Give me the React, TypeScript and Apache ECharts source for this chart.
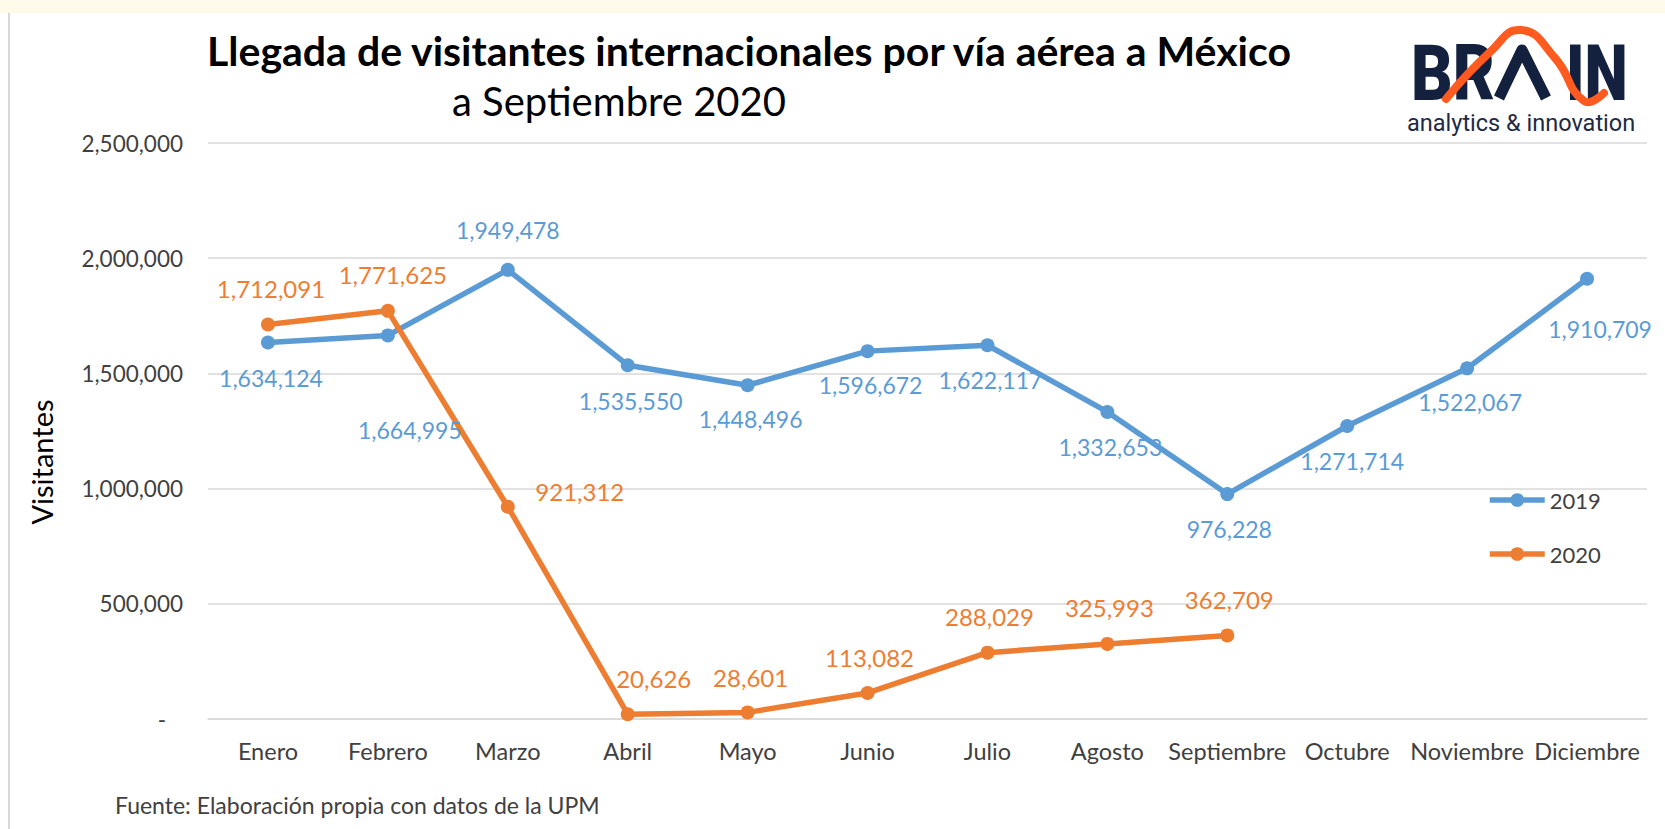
import React, { useEffect, useRef } from "react";
import * as echarts from "echarts";

const months = ["Enero", "Febrero", "Marzo", "Abril", "Mayo", "Junio", "Julio", "Agosto", "Septiembre", "Octubre", "Noviembre", "Diciembre"];
const visitors2019 = [1634124, 1664995, 1949478, 1535550, 1448496, 1596672, 1622117, 1332653, 976228, 1271714, 1522067, 1910709];
const visitors2020 = [1712091, 1771625, 921312, 20626, 28601, 113082, 288029, 325993, 362709];
const yTicks = [0, 500000, 1000000, 1500000, 2000000, 2500000];

const titleText = "Llegada de visitantes internacionales por vía aérea a México";
const subtitleText = "a Septiembre 2020";
const sourceText = "Fuente: Elaboración propia con datos de la UPM";

// label offsets (style only)
const offsets2019: [number, number][] = [
  [3, 36], [22, 95], [0, -40], [3, 36], [3, 34], [3, 34], [3, 35], [3, 35], [2, 35], [5, 35], [3, 34], [13, 50],
];
const offsets2020: [number, number][] = [
  [3, -36], [5, -36], [72, -15], [26, -36], [3, -35], [2, -35], [2, -36], [2, -36], [2, -36],
];

const BLUE = "#5B9BD5";
const ORANGE = "#ED7D31";
const FONT = "Lato";
const fmt = (v: number) => v.toLocaleString("en-US");

export default function App() {
  const ref = useRef<HTMLDivElement>(null);
  useEffect(() => {
    if (!ref.current) return;
    const chart = echarts.init(ref.current, undefined, { renderer: "svg" });
    const option: any = {
      animation: false,
      backgroundColor: "#ffffff",
      grid: { left: 208, right: 18, top: 143, bottom: 110 },
      legend: {
        orient: "vertical",
        left: 1482,
        top: 484,
        itemWidth: 55,
        itemHeight: 17,
        itemGap: 32,
        lineStyle: { width: 5.5 },
        textStyle: { fontFamily: FONT, fontSize: 22, color: "#404040" },
        data: ["2019", "2020"],
      },
      xAxis: {
        type: "category",
        data: months,
        boundaryGap: true,
        axisLine: { lineStyle: { color: "#D9D9D9", width: 1.5 } },
        axisTick: { show: false },
        axisLabel: { fontFamily: FONT, fontSize: 23.5, color: "#404040", margin: 20, interval: 0 },
      },
      yAxis: {
        type: "value",
        min: yTicks[0],
        max: yTicks[yTicks.length - 1],
        interval: yTicks[1] - yTicks[0],
        axisLine: { show: false },
        axisTick: { show: false },
        splitLine: { lineStyle: { color: "#D9D9D9", width: 1.5 } },
        axisLabel: {
          fontFamily: FONT,
          fontSize: 22.5,
          color: "#404040",
          margin: 25,
          formatter: (v: number) => (v === 0 ? "{d|-}" : fmt(v)),
          rich: { d: { fontFamily: FONT, fontSize: 22.5, color: "#404040", padding: [0, 17, 0, 0] } },
        },
      },
      series: [
        {
          name: "2019",
          type: "line",
          data: visitors2019.map((v, i) => ({ value: v, label: { offset: offsets2019[i] } })),
          symbol: "circle",
          symbolSize: 14,
          color: BLUE,
          lineStyle: { color: BLUE, width: 5.5 },
          itemStyle: { color: BLUE },
          label: {
            show: true,
            position: "inside",
            fontFamily: FONT,
            fontSize: 23,
            color: BLUE,
            formatter: (p: any) => fmt(p.value),
          },
        },
        {
          name: "2020",
          type: "line",
          data: visitors2020.map((v, i) => ({ value: v, label: { offset: offsets2020[i] } })),
          symbol: "circle",
          symbolSize: 14,
          color: ORANGE,
          lineStyle: { color: ORANGE, width: 5.5 },
          itemStyle: { color: ORANGE },
          label: {
            show: true,
            position: "inside",
            fontFamily: FONT,
            fontSize: 24,
            color: ORANGE,
            formatter: (p: any) => fmt(p.value),
          },
        },
      ],
      graphic: [
        { type: "rect", shape: { x: 0, y: 0, width: 1665, height: 13 }, style: { fill: "#FFFAEA" }, silent: true },
        { type: "line", shape: { x1: 9, y1: 13, x2: 9, y2: 829 }, style: { stroke: "#D9D9D9", lineWidth: 2 }, silent: true },
        {
          type: "text", x: 207, y: 50,
          style: { text: titleText, fontFamily: FONT, fontWeight: "bold", fontSize: 41, fill: "#000000", align: "left", verticalAlign: "middle" },
        },
        {
          type: "text", x: 452, y: 101,
          style: { text: subtitleText, fontFamily: FONT, fontSize: 40, fill: "#000000", align: "left", verticalAlign: "middle" },
        },
        {
          type: "text", x: 41, y: 462, rotation: Math.PI / 2,
          style: { text: "Visitantes", fontFamily: FONT, fontSize: 29, fill: "#000000", align: "center", verticalAlign: "middle" },
        },
        {
          type: "text", x: 115, y: 805,
          style: { text: sourceText, fontFamily: FONT, fontSize: 23, fill: "#404040", align: "left", verticalAlign: "middle" },
        },
        // logo
        {
          type: "text", x: 1411, y: 73, scaleX: 0.84,
          style: { text: "BR", fontFamily: "Roboto", fontWeight: 900, fontSize: 77, fill: "#13213F", align: "left", verticalAlign: "middle" },
        },
        {
          type: "polyline",
          shape: { points: [[1499, 98], [1522, 50], [1546, 98]] },
          style: { stroke: "#13213F", lineWidth: 11, fill: "none", lineJoin: "round" },
        },
        {
          type: "text", x: 1566, y: 73, scaleX: 0.8,
          style: { text: "IN", fontFamily: "Roboto", fontWeight: 900, fontSize: 77, fill: "#13213F", align: "left", verticalAlign: "middle" },
        },
        {
          type: "polyline",
          shape: { points: [[1446, 99], [1490, 52], [1521, 30], [1555, 58], [1584, 101], [1604, 93]], smooth: 0.5 },
          style: { stroke: "#FF5A1F", lineWidth: 8, fill: "none", lineCap: "round" },
        },
        {
          type: "text", x: 1407, y: 123,
          style: { text: "analytics & innovation", fontFamily: "Roboto", fontSize: 23.5, fill: "#1E2A45", align: "left", verticalAlign: "middle" },
        },
      ],
    };
    chart.setOption(option);
    return () => chart.dispose();
  }, []);
  return <div ref={ref} style={{ position: "fixed", left: 0, top: 0, width: 1665, height: 829 }} />;
}
